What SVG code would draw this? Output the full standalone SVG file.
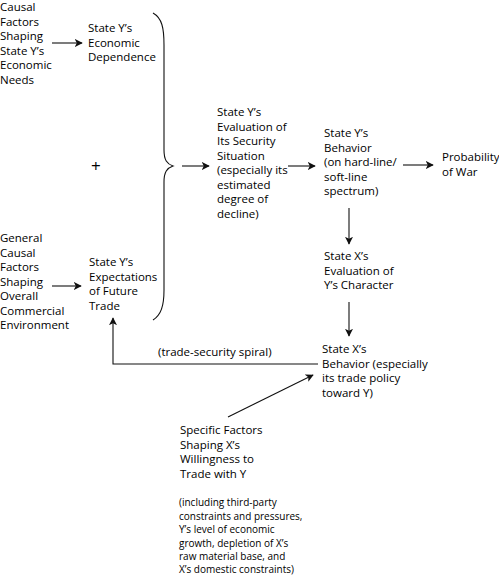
<svg xmlns="http://www.w3.org/2000/svg" width="499" height="576" viewBox="0 0 499 576">
<style>
text{font-family:"Open Sans","Noto Sans",sans-serif;font-size:11.5px;fill:#000}
.note{font-size:10px}
.c line,.c path{stroke:#111;stroke-width:1.1;fill:none}
</style>
<defs>
<marker id="ah" viewBox="0 0 10 10" refX="9" refY="5" markerWidth="8" markerHeight="8" markerUnits="userSpaceOnUse" orient="auto">
<path d="M0,0 L10,5 L0,10 L2.5,5 Z" fill="#111"/>
</marker>
</defs>
<rect width="499" height="576" fill="#fff"/>
<g id="n-causal">
<text x="0" y="11">Causal</text><text x="0" y="25.5">Factors</text><text x="0" y="40">Shaping</text><text x="0" y="54.5">State Y’s</text><text x="0" y="69">Economic</text><text x="0" y="83.5">Needs</text>
</g>
<g id="n-dependence">
<text x="88" y="32">State Y’s</text><text x="88" y="46.5">Economic</text><text x="88" y="61">Dependence</text>
</g>
<g id="n-plus"><text x="91" y="172" style="font-size:17px">+</text></g>
<g id="n-general">
<text x="0" y="242">General</text><text x="0" y="256.5">Causal</text><text x="0" y="271">Factors</text><text x="0" y="285.5">Shaping</text><text x="0" y="300">Overall</text><text x="0" y="314.5">Commercial</text><text x="0" y="329">Environment</text>
</g>
<g id="n-expectations">
<text x="89" y="266">State Y’s</text><text x="89" y="280.5">Expectations</text><text x="89" y="295">of Future</text><text x="89" y="309.5">Trade</text>
</g>
<g id="n-evaluation">
<text x="217" y="116">State Y’s</text><text x="217" y="130.5">Evaluation of</text><text x="217" y="145">Its Security</text><text x="217" y="159.5">Situation</text><text x="217" y="174">(especially its</text><text x="217" y="188.5">estimated</text><text x="217" y="203">degree of</text><text x="217" y="217.5">decline)</text>
</g>
<g id="n-ybehavior">
<text x="324" y="137">State Y’s</text><text x="324" y="151.5">Behavior</text><text x="324" y="166">(on hard-line/</text><text x="324" y="180.5">soft-line</text><text x="324" y="195">spectrum)</text>
</g>
<g id="n-war">
<text x="442" y="161">Probability</text><text x="442" y="175.5">of War</text>
</g>
<g id="n-xevaluation">
<text x="324" y="260">State X’s</text><text x="324" y="274.5">Evaluation of</text><text x="324" y="289">Y’s Character</text>
</g>
<g id="n-xbehavior">
<text x="322" y="353">State X’s</text><text x="322" y="367.5">Behavior (especially</text><text x="322" y="382">its trade policy</text><text x="322" y="396.5">toward Y)</text>
</g>
<g id="n-specific">
<text x="180" y="434">Specific Factors</text><text x="180" y="448.5">Shaping X’s</text><text x="180" y="463">Willingness to</text><text x="180" y="477.5">Trade with Y</text>
<text class="note" x="179" y="506">(including third-party</text><text class="note" x="179" y="519.5">constraints and pressures,</text><text class="note" x="179" y="533">Y’s level of economic</text><text class="note" x="179" y="546.5">growth, depletion of X’s</text><text class="note" x="179" y="560">raw material base, and</text><text class="note" x="179" y="573">X’s domestic constraints)</text>
</g>
<g id="connectors" class="c">
<line x1="52" y1="43" x2="82" y2="43" marker-end="url(#ah)"/>
<line x1="52" y1="286" x2="81" y2="286" marker-end="url(#ah)"/>
<path d="M153,13 C162,18 164,28 164,45 L164,150 C164,160 167,164 173,166 C167,168 164,172 164,182 L164,290 C164,306 161,315 153,320"/>
<line x1="182" y1="166" x2="209" y2="166" marker-end="url(#ah)"/>
<line x1="288" y1="166" x2="315" y2="166" marker-end="url(#ah)"/>
<line x1="403" y1="165" x2="433" y2="165" marker-end="url(#ah)"/>
<line x1="349" y1="208" x2="349" y2="244" marker-end="url(#ah)"/>
<line x1="349" y1="302" x2="349" y2="336" marker-end="url(#ah)"/>
<path d="M318,364 L113,364 L113,318" marker-end="url(#ah)"/>
<line x1="228" y1="417" x2="313" y2="375" marker-end="url(#ah)"/>
</g>
<g id="label-spiral"><text x="158" y="356">(trade-security spiral)</text></g>
</svg>
